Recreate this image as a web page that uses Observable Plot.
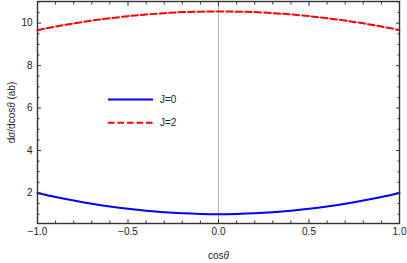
<!DOCTYPE html>
<html>
<head>
<meta charset="utf-8">
<script src="https://cdn.jsdelivr.net/npm/d3@7"></script>
<script src="https://cdn.jsdelivr.net/npm/@observablehq/plot@0.6"></script>
<style>
  body { margin: 0; background: #fff; }
  #wrap { position: relative; width: 407px; height: 263px; font-family: "Liberation Sans", Arial, sans-serif; }
  #legend { position: absolute; left: 0; top: 0; pointer-events: none; }
</style>
</head>
<body>
<div id="wrap"></div>
<script>
// Data
const cosTheta = [-1.0, -0.9, -0.8, -0.7, -0.6, -0.5, -0.4, -0.3, -0.2, -0.1, 0.0, 0.1, 0.2, 0.3, 0.4, 0.5, 0.6, 0.7, 0.8, 0.9, 1.0];
const j0Values = [2.0, 1.81, 1.64, 1.49, 1.36, 1.25, 1.16, 1.09, 1.04, 1.01, 1.0, 1.01, 1.04, 1.09, 1.16, 1.25, 1.36, 1.49, 1.64, 1.81, 2.0];
const j2Values = [9.67, 9.84, 9.99, 10.12, 10.23, 10.33, 10.41, 10.47, 10.52, 10.54, 10.55, 10.54, 10.52, 10.47, 10.41, 10.33, 10.23, 10.12, 9.99, 9.84, 9.67];
const seriesNames = ["J=0", "J=2"];
const seriesColors = ["#0000ff", "#ff0000"];
const seriesDash = [null, "6.5,3"];
const xMajorTicks = [-1.0, -0.5, 0.0, 0.5, 1.0];
const xMinorTicks = [-0.9, -0.8, -0.7, -0.6, -0.4, -0.3, -0.2, -0.1, 0.1, 0.2, 0.3, 0.4, 0.6, 0.7, 0.8, 0.9];
const yMajorTicks = [2, 4, 6, 8, 10];
const yMinorTicks = [1, 1.5, 2.5, 3, 3.5, 4.5, 5, 5.5, 6.5, 7, 7.5, 8.5, 9, 9.5, 10.5, 11];
const xLabel = "cosθ";
const yLabel = "dσ/dcosθ (ab)";

const j0 = cosTheta.map((x, i) => ({x, y: j0Values[i]}));
const j2 = cosTheta.map((x, i) => ({x, y: j2Values[i]}));

const axisColor = "#333";
const fmtX = d3.format(".1f");

const chart = Plot.plot({
  width: 407,
  height: 263,
  marginLeft: 37,
  marginRight: 8,
  marginTop: 1,
  marginBottom: 40,
  style: {fontFamily: "'Liberation Sans', Arial, sans-serif", fontSize: "10px", color: "#222", background: "#fff"},
  x: {domain: [-1, 1]},
  y: {domain: [0.56, 11.02]},
  marks: [
    Plot.ruleX([0], {stroke: "#b4b4b4", strokeWidth: 1}),
    Plot.line(j0, {x: "x", y: "y", stroke: seriesColors[0], strokeWidth: 2, curve: "natural"}),
    Plot.line(j2, {x: "x", y: "y", stroke: seriesColors[1], strokeWidth: 2, strokeDasharray: seriesDash[1], curve: "natural"}),
    // bottom axis
    Plot.axisX(xMajorTicks, {anchor: "bottom", tickSize: -4, tickPadding: 8, tickFormat: fmtX, stroke: axisColor, label: xLabel, labelArrow: "none", labelAnchor: "center", labelOffset: 35, fill: "#222"}),
    Plot.axisX(xMinorTicks, {anchor: "bottom", tickSize: -2.5, fill: "none", stroke: axisColor, label: null}),
    // top axis (ticks only)
    Plot.axisX(xMajorTicks, {anchor: "top", tickSize: -4, fill: "none", stroke: axisColor, label: null}),
    Plot.axisX(xMinorTicks, {anchor: "top", tickSize: -2.5, fill: "none", stroke: axisColor, label: null}),
    // left axis
    Plot.axisY(yMajorTicks, {anchor: "left", tickSize: -4, tickPadding: 9, stroke: axisColor, label: yLabel, labelArrow: "none", labelAnchor: "center", labelOffset: 30, fill: "#222"}),
    Plot.axisY(yMinorTicks, {anchor: "left", tickSize: -2.5, fill: "none", stroke: axisColor, label: null}),
    // right axis (ticks only)
    Plot.axisY(yMajorTicks, {anchor: "right", tickSize: -4, fill: "none", stroke: axisColor, label: null}),
    Plot.axisY(yMinorTicks, {anchor: "right", tickSize: -2.5, fill: "none", stroke: axisColor, label: null}),
    Plot.frame({stroke: axisColor, strokeWidth: 1.4})
  ]
});

// Italicise Greek letters in axis labels (as in the reference)
d3.select(chart).selectAll("text").each(function() {
  const el = d3.select(this);
  if (el.selectAll("tspan").size() > 0) return;
  const t = el.text();
  if (!/[σθ]/.test(t)) return;
  el.text(null);
  for (const part of t.split(/([σθ])/)) {
    if (!part) continue;
    const ts = el.append("tspan").text(part);
    if (/[σθ]/.test(part)) ts.attr("font-style", "italic");
  }
});

const wrap = document.getElementById("wrap");
wrap.appendChild(chart);

// Legend overlay inside the plot area
const legend = d3.select(wrap).append("svg")
  .attr("id", "legend")
  .attr("width", 407).attr("height", 263);
const legX0 = 108, legX1 = 153, legTextX = 160, legY0 = 99.5, legStep = 23.2;
seriesNames.forEach((name, i) => {
  const y = legY0 + i * legStep;
  legend.append("line")
    .attr("x1", legX0).attr("x2", legX1).attr("y1", y).attr("y2", y)
    .attr("stroke", seriesColors[i]).attr("stroke-width", 2)
    .attr("stroke-dasharray", seriesDash[i]);
  legend.append("text")
    .attr("x", legTextX).attr("y", y).attr("dy", "0.35em")
    .attr("font-family", "'Liberation Sans', Arial, sans-serif")
    .attr("font-size", 10).attr("fill", "#222")
    .text(name);
});
</script>
</body>
</html>
